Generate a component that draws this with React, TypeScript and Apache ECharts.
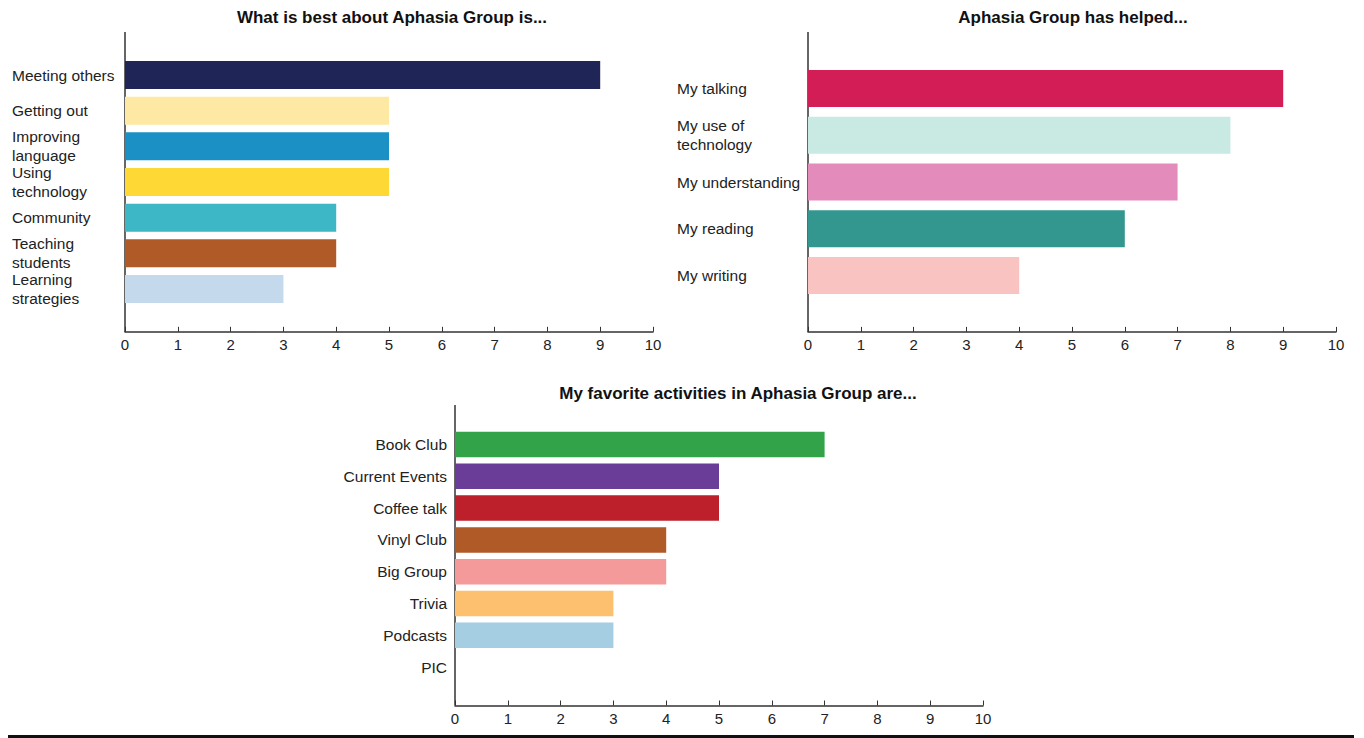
import React, { useEffect, useRef } from "react";
import * as echarts from "echarts";

const bestTitle = "What is best about Aphasia Group is...";
const bestCategories = [
  "Meeting others",
  "Getting out",
  "Improving\nlanguage",
  "Using\ntechnology",
  "Community",
  "Teaching\nstudents",
  "Learning\nstrategies",
];
const bestValues = [9, 5, 5, 5, 4, 4, 3];
const bestColors = ["#1f2557", "#fde9a3", "#1b90c4", "#fed835", "#3db6c6", "#b05a28", "#c5d9ec"];

const helpedTitle = "Aphasia Group has helped...";
const helpedCategories = ["My talking", "My use of\ntechnology", "My understanding", "My reading", "My writing"];
const helpedValues = [9, 8, 7, 6, 4];
const helpedColors = ["#d21d57", "#c9e9e3", "#e38bbb", "#33978f", "#f8c3c0"];

const activityTitle = "My favorite activities in Aphasia Group are...";
const activityCategories = [
  "Book Club",
  "Current Events",
  "Coffee talk",
  "Vinyl Club",
  "Big Group",
  "Trivia",
  "Podcasts",
  "PIC",
];
const activityValues = [7, 5, 5, 4, 4, 3, 3, 0];
const activityColors = ["#33a34a", "#6a3d98", "#bd1f2b", "#b05a28", "#f59a9a", "#fcc06f", "#a6cee3", "#cccccc"];

const xMin = 0;
const xMax = 10;
const xInterval = 1;

const FONT = "'Liberation Sans', Arial, sans-serif";
const AXIS_COLOR = "#333333";
const TEXT_COLOR = "#222222";

export default function App() {
  const ref = useRef<HTMLDivElement>(null);

  useEffect(() => {
    if (!ref.current) return;
    const chart = echarts.init(ref.current, null, { renderer: "svg" });

    const grids = [
      { left: 125, width: 528, top: 57.2, height: 249.6 },
      { left: 808, width: 528, top: 65.1, height: 233.8 },
      { left: 455, width: 528, top: 428.6, height: 254.4 },
    ];
    const offsets = [25, 33, 22.5];
    const cats = [bestCategories, helpedCategories, activityCategories];
    const vals = [bestValues, helpedValues, activityValues];
    const cols = [bestColors, helpedColors, activityColors];
    const barWidths = [28, 37, 25.5];
    const labelCfg = [
      { align: "left", margin: 113 },
      { align: "left", margin: 131 },
      { align: "right", margin: 8 },
    ];

    const titleStyle = { fontFamily: FONT, fontSize: 17, fontWeight: "bold", color: "#111111" };

    const option: any = {
      animation: false,
      backgroundColor: "#ffffff",
      title: [
        { text: bestTitle, left: 392, top: 9, textAlign: "center", padding: 0, textStyle: titleStyle },
        { text: helpedTitle, left: 1073, top: 9, textAlign: "center", padding: 0, textStyle: titleStyle },
        { text: activityTitle, left: 738, top: 385, textAlign: "center", padding: 0, textStyle: titleStyle },
      ],
      grid: grids.map((g) => ({ ...g, containLabel: false })),
      xAxis: grids.map((_, i) => ({
        type: "value",
        gridIndex: i,
        min: xMin,
        max: xMax,
        interval: xInterval,
        offset: offsets[i],
        splitLine: { show: false },
        axisLine: { show: true, lineStyle: { color: AXIS_COLOR, width: 1.5 } },
        axisTick: { show: true, inside: true, length: 5, lineStyle: { color: AXIS_COLOR, width: 1 } },
        axisLabel: { fontFamily: FONT, fontSize: 15, color: TEXT_COLOR, margin: 5 },
      })),
      yAxis: grids.map((_, i) => ({
        type: "category",
        gridIndex: i,
        inverse: true,
        data: cats[i],
        axisLine: { show: false },
        axisTick: { show: false },
        axisLabel: {
          interval: 0,
          hideOverlap: false,
          fontFamily: FONT,
          fontSize: 15.5,
          color: TEXT_COLOR,
          align: labelCfg[i].align,
          margin: labelCfg[i].margin,
          lineHeight: 19,
        },
      })),
      series: grids.map((_, i) => ({
        type: "bar",
        xAxisIndex: i,
        yAxisIndex: i,
        barWidth: barWidths[i],
        data: vals[i].map((v, j) => ({ value: v, itemStyle: { color: cols[i][j] } })),
      })),
      graphic: [
        { type: "line", shape: { x1: 125, y1: 32, x2: 125, y2: 332 }, style: { stroke: AXIS_COLOR, lineWidth: 1.5 } },
        { type: "line", shape: { x1: 808, y1: 32, x2: 808, y2: 332 }, style: { stroke: AXIS_COLOR, lineWidth: 1.5 } },
        { type: "line", shape: { x1: 455, y1: 405, x2: 455, y2: 705.5 }, style: { stroke: AXIS_COLOR, lineWidth: 1.5 } },
        { type: "rect", shape: { x: 8, y: 735, width: 1346, height: 3 }, style: { fill: "#111111" } },
      ],
    };

    chart.setOption(option);
    return () => chart.dispose();
  }, []);

  return (
    <div
      ref={ref}
      style={{ position: "absolute", left: 0, top: 0, width: 1364, height: 738, background: "#fff" }}
    />
  );
}
